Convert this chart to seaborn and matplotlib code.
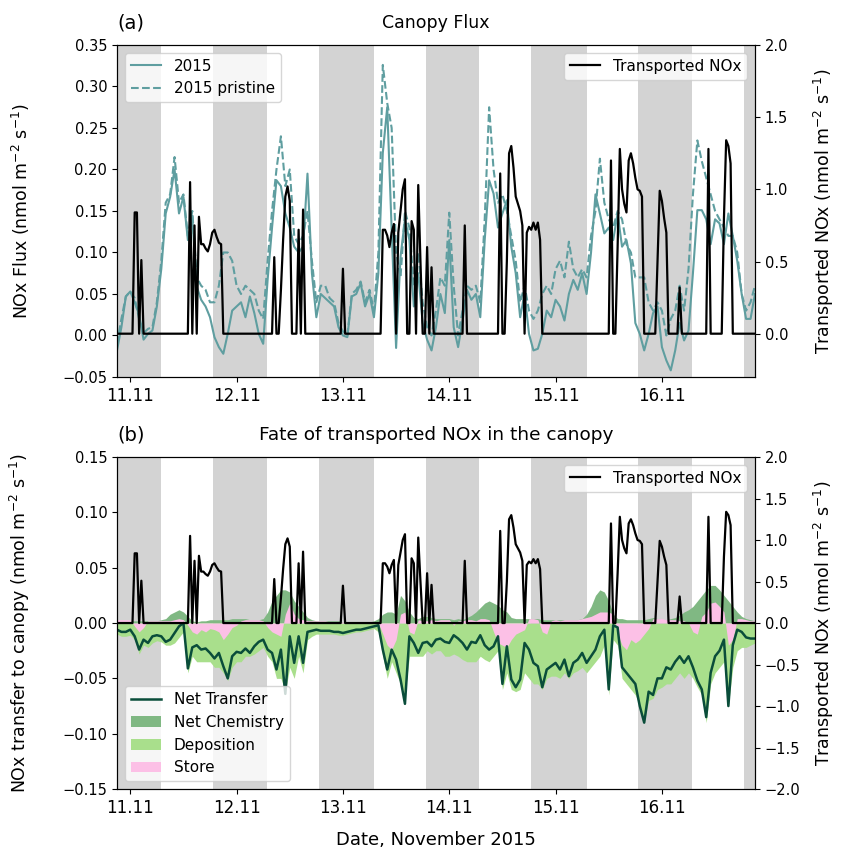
import numpy as np
import pandas as pd
import matplotlib
matplotlib.use('Agg')
import matplotlib.pyplot as plt
import matplotlib.dates as mdates
from matplotlib.ticker import MultipleLocator
import seaborn as sns

# hourly values, starting 10 Nov 2015 21:00
flux_2015 = [
    -0.018, 0.01, 0.047, 0.053, 0.04, 0.025, -0.005, 0.002, 0.006, 0.035, 0.08, 0.147,
    0.167, 0.2, 0.147, 0.167, 0.115, 0.143, 0.059, 0.043, 0.035, 0.022, -0.002, -0.014,
    -0.022, 0.002, 0.03, 0.035, 0.04, 0.022, 0.047, 0.027, 0.002, -0.01, 0.067, 0.13,
    0.187, 0.18, 0.147, 0.13, 0.107, 0.1, 0.107, 0.195, 0.075, 0.022, 0.05, 0.045,
    0.04, 0.035, 0.01, 0.0, -0.002, 0.047, 0.05, 0.063, 0.035, 0.05, 0.022, 0.075,
    0.22, 0.275, 0.127, -0.015, 0.095, 0.14, 0.115, 0.035, 0.075, 0.015, -0.005, -0.018,
    0.01, 0.05, 0.027, 0.115, 0.01, -0.014, 0.018, 0.055, 0.043, 0.05, 0.022, 0.115,
    0.187, 0.171, 0.13, 0.147, 0.163, 0.107, 0.075, 0.022, 0.05, 0.002, -0.018, -0.016,
    0.002, 0.03, 0.022, 0.043, 0.035, 0.018, 0.05, 0.067, 0.055, 0.075, 0.05, 0.1,
    0.17, 0.147, 0.123, 0.13, 0.115, 0.147, 0.107, 0.115, 0.087, 0.015, 0.002, -0.018,
    0.002, 0.027, 0.035, -0.014, -0.03, -0.042, -0.018, 0.015, -0.006, 0.006, 0.075, 0.151,
    0.151, 0.14, 0.11, 0.14, 0.135, 0.11, 0.147, 0.12, 0.09, 0.05, 0.02, 0.02,
    0.05]

flux_pristine = [
    -0.01, 0.02, 0.047, 0.053, 0.045, 0.02, 0.003, 0.008, 0.01, 0.04, 0.09, 0.16,
    0.17, 0.215, 0.16, 0.17, 0.12, 0.15, 0.07, 0.06, 0.055, 0.04, 0.04, 0.06,
    0.1, 0.1, 0.09, 0.06, 0.05, 0.06, 0.055, 0.05, 0.03, 0.02, 0.09, 0.15,
    0.2, 0.24, 0.18, 0.2, 0.12, 0.11, 0.12, 0.15, 0.09, 0.04, 0.06, 0.06,
    0.045, 0.04, 0.015, 0.005, 0.0, 0.05, 0.055, 0.065, 0.04, 0.055, 0.03, 0.1,
    0.326, 0.28, 0.25, 0.1, 0.07, 0.15, 0.13, 0.06, 0.1, 0.04, 0.01, 0.0,
    0.03, 0.07, 0.06, 0.148, 0.06, 0.0, 0.03, 0.06, 0.055, 0.06, 0.04, 0.14,
    0.275, 0.2, 0.16, 0.17, 0.15, 0.12, 0.09, 0.04, 0.06, 0.03, 0.02, 0.03,
    0.05, 0.06, 0.05, 0.08, 0.09, 0.07, 0.113, 0.08, 0.07, 0.08, 0.07, 0.12,
    0.15, 0.213, 0.16, 0.14, 0.13, 0.15, 0.14, 0.11, 0.1, 0.07, 0.07, 0.07,
    0.04, 0.03, 0.04, 0.03, 0.0, 0.02, 0.03, 0.06, 0.03, 0.08, 0.17, 0.235,
    0.21, 0.19, 0.17, 0.15, 0.14, 0.13, 0.12, 0.12, 0.1, 0.05, 0.03, 0.04,
    0.06]

net_transfer = [
    -0.006, -0.008, -0.008, -0.006, -0.012, -0.024, -0.015, -0.018, -0.012, -0.011, -0.012, -0.017,
    -0.015, -0.009, -0.003, 0.0, -0.041, -0.022, -0.02, -0.024, -0.023, -0.027, -0.032, -0.027,
    -0.039, -0.05, -0.03, -0.026, -0.027, -0.023, -0.027, -0.021, -0.017, -0.015, -0.024, -0.027,
    -0.042, -0.024, -0.064, -0.012, -0.036, -0.012, -0.036, -0.008, -0.007, -0.006, -0.007, -0.007,
    -0.007, -0.008, -0.008, -0.009, -0.008, -0.007, -0.006, -0.006, -0.005, -0.004, -0.003, -0.002,
    -0.024, -0.042, -0.024, -0.033, -0.051, -0.073, -0.012, -0.018, -0.027, -0.018, -0.017, -0.021,
    -0.015, -0.014, -0.017, -0.018, -0.011, -0.014, -0.018, -0.024, -0.017, -0.018, -0.011, -0.02,
    -0.024, -0.021, -0.012, -0.055, -0.021, -0.051, -0.058, -0.051, -0.018, -0.024, -0.036, -0.039,
    -0.058, -0.042, -0.039, -0.036, -0.042, -0.033, -0.048, -0.036, -0.033, -0.027, -0.036, -0.03,
    -0.024, -0.012, -0.006, -0.06, -0.002, -0.004, -0.04, -0.045, -0.05, -0.055, -0.075, -0.09,
    -0.062, -0.065, -0.05, -0.05, -0.04, -0.042, -0.035, -0.03, -0.036, -0.03, -0.04, -0.052,
    -0.06, -0.085, -0.045, -0.03, -0.025, -0.015, -0.075, -0.02, -0.006, -0.008, -0.013, -0.014,
    -0.014]

net_chemistry = [
    0.002, 0.002, 0.002, 0.002, 0.002, 0.002, 0.002, 0.002, 0.002, 0.002, 0.003, 0.004,
    0.008, 0.01, 0.012, 0.01, 0.006, 0.002, 0.001, 0.002, 0.002, 0.003, 0.003, 0.003,
    0.003, 0.003, 0.004, 0.004, 0.004, 0.004, 0.003, 0.003, 0.003, 0.004, 0.01, 0.02,
    0.025, 0.03, 0.03, 0.028, 0.02, 0.015, 0.01, 0.005, 0.003, 0.002, 0.002, 0.002,
    0.002, 0.002, 0.002, 0.001, 0.001, 0.001, 0.001, 0.001, 0.001, 0.001, 0.002, 0.004,
    0.008, 0.01, 0.01, 0.008, 0.025, 0.02, 0.01, 0.005, 0.004, 0.006, 0.006, 0.005,
    0.004, 0.004, 0.004, 0.004, 0.003, 0.004, 0.003, 0.005, 0.007, 0.01, 0.014, 0.018,
    0.02, 0.018, 0.016, 0.012, 0.01, 0.005, 0.004, 0.004, 0.004, 0.004, 0.004, 0.004,
    0.003, 0.003, 0.003, 0.003, 0.003, 0.003, 0.003, 0.003, 0.003, 0.004, 0.008, 0.015,
    0.025, 0.03, 0.028, 0.02, 0.008, 0.004, 0.004, 0.003, 0.003, 0.003, 0.003, 0.003,
    0.004, 0.005, 0.004, 0.003, 0.003, 0.004, 0.005, 0.007, 0.01, 0.012, 0.015, 0.02,
    0.025, 0.03, 0.034, 0.034, 0.03, 0.025, 0.02, 0.015, 0.01, 0.006, 0.004, 0.003,
    0.002]

deposition = [
    -0.01, -0.012, -0.012, -0.011, -0.015, -0.028, -0.02, -0.022, -0.018, -0.016, -0.017, -0.02,
    -0.02, -0.018, -0.013, -0.008, -0.045, -0.03, -0.035, -0.035, -0.035, -0.035, -0.04, -0.04,
    -0.045, -0.052, -0.04, -0.035, -0.035, -0.03, -0.03, -0.028, -0.025, -0.022, -0.03, -0.035,
    -0.05, -0.05, -0.062, -0.04, -0.05, -0.03, -0.045, -0.015, -0.012, -0.01, -0.01, -0.01,
    -0.01, -0.01, -0.011, -0.011, -0.01, -0.009, -0.008, -0.008, -0.007, -0.006, -0.005, -0.008,
    -0.03, -0.05, -0.035, -0.045, -0.055, -0.065, -0.03, -0.03, -0.03, -0.03, -0.025, -0.028,
    -0.025, -0.025, -0.03, -0.03, -0.028, -0.03, -0.033, -0.035, -0.035, -0.035, -0.03, -0.033,
    -0.035, -0.03, -0.025, -0.06, -0.045, -0.06, -0.062, -0.06, -0.045, -0.05, -0.055, -0.055,
    -0.06, -0.05, -0.048, -0.048, -0.05, -0.045, -0.05, -0.045, -0.043, -0.04, -0.045, -0.04,
    -0.035, -0.03, -0.02, -0.065, -0.015, -0.02, -0.05, -0.055, -0.06, -0.065, -0.075, -0.09,
    -0.07, -0.068, -0.06, -0.058, -0.055, -0.055, -0.05, -0.045, -0.05, -0.045, -0.05, -0.058,
    -0.065, -0.09, -0.055, -0.045, -0.04, -0.035, -0.075, -0.04, -0.025, -0.022, -0.022, -0.02,
    -0.018]

store = [
    0.003, 0.003, 0.003, 0.003, -0.003, -0.008, -0.004, 0.002, 0.002, 0.002, 0.002, 0.002,
    0.002, 0.003, 0.004, 0.003, -0.002, -0.008, -0.01, -0.006, -0.008, -0.005, -0.006, -0.008,
    -0.015, -0.01, -0.004, -0.002, 0.002, 0.003, 0.003, 0.003, 0.003, 0.002, -0.004, -0.008,
    -0.01, -0.012, 0.008, 0.018, 0.008, 0.004, 0.003, 0.002, 0.002, 0.002, 0.002, 0.002,
    0.001, 0.001, 0.001, 0.001, 0.001, 0.001, 0.001, 0.001, 0.001, 0.001, 0.001, 0.0,
    -0.01, -0.02, -0.024, -0.015, 0.008, 0.01, -0.008, -0.01, 0.003, 0.002, 0.002, 0.003,
    0.002, 0.003, 0.003, 0.003, -0.002, 0.002, 0.002, 0.003, 0.003, 0.002, 0.004, 0.004,
    0.003, -0.008, -0.018, -0.02, -0.022, -0.015, -0.01, -0.008, -0.006, 0.004, 0.004, 0.003,
    -0.008, -0.01, 0.002, 0.003, 0.002, 0.003, 0.003, 0.003, 0.003, 0.004, 0.005, 0.006,
    0.008, 0.01, 0.01, 0.01, 0.008, -0.01, -0.02, -0.024, -0.015, -0.018, -0.015, -0.01,
    -0.005, 0.004, 0.004, 0.004, 0.003, 0.003, 0.003, 0.002, 0.002, 0.0, -0.008, -0.01,
    0.006, 0.01, 0.018, 0.019, 0.015, 0.01, -0.02, -0.015, 0.004, 0.004, 0.003, 0.002,
    0.002]

# half-hourly transported NOx, same start
transported_nox = (
    [0] * 8 + [0.84, 0.84, 0, 0.51] + [0] * 21
    + [1.05, 0, 0.75, 0, 0.81, 0.62, 0.62, 0.59, 0.57, 0.62, 0.70, 0.72, 0.67, 0.63, 0.62]
    + [0] * 23
    + [0.53, 0, 0, 0.3, 0.65, 0.95, 1.02, 0.92, 0, 0, 0, 0.72, 0, 0.86]
    + [0] * 17 + [0.45] + [0] * 17
    + [0.72, 0.72, 0.68, 0.60, 0.70, 0.76, 0, 0.70, 0.85, 1.0, 1.07, 0, 0, 0.78, 0.72,
       0, 1.03, 0.5, 0, 0, 0.60, 0, 0.46]
    + [0] * 14 + [0.75] + [0] * 15
    + [1.11, 0, 0, 0.5, 1.25, 1.30, 1.15, 0.95, 0.90, 0.85, 0.75, 0, 0.70, 0.74, 0.72,
       0.77, 0.72, 0.77, 0.65]
    + [0] * 31
    + [1.20, 0, 0, 0.6, 1.28, 1.0, 0.9, 0.84, 1.2, 1.25, 1.18, 1.08, 1.0, 0.99, 0.95]
    + [0] * 6 + [0.5, 0.99, 0.92, 0.8, 0.7] + [0] * 5 + [0.32] + [0] * 12
    + [1.28] + [0] * 6 + [0.8, 1.34, 1.3, 1.18] + [0] * 11
)

# night periods (grey shading)
night_start = ['2015-11-10 21:00', '2015-11-11 18:39', '2015-11-12 18:36', '2015-11-13 18:42',
               '2015-11-14 18:30', '2015-11-15 18:42', '2015-11-16 18:36']
night_end = ['2015-11-11 07:00', '2015-11-12 06:45', '2015-11-13 07:00', '2015-11-14 06:48',
             '2015-11-15 07:06', '2015-11-16 06:48', '2015-11-16 21:00']

t_hour = pd.date_range('2015-11-10 21:00', periods=len(flux_2015), freq='h')
t_half = pd.date_range('2015-11-10 21:00', periods=len(transported_nox), freq='30min')

flux_df = pd.DataFrame({'time': t_hour, 'flux': flux_2015, 'pristine': flux_pristine,
                        'net': net_transfer, 'chem': net_chemistry,
                        'dep': deposition, 'store': store})
nox_df = pd.DataFrame({'time': t_half, 'nox': transported_nox})

teal = '#5f9ea0'
unit = ' (nmol m$^{-2}$ s$^{-1}$)'
lab_fs = 12.5

fig = plt.figure(figsize=(8.44, 8.57), dpi=100)
ax1 = fig.add_axes([0.1386, 0.5601, 0.7559, 0.3874])
ax2 = fig.add_axes([0.1386, 0.0793, 0.7559, 0.3874])

for ax in (ax1, ax2):
    for s, e in zip(night_start, night_end):
        ax.axvspan(pd.Timestamp(s), pd.Timestamp(e), color='lightgrey', lw=0, zorder=0)

# (a) canopy flux
sns.lineplot(data=flux_df, x='time', y='flux', ax=ax1, color=teal, lw=1.5, label='2015')
sns.lineplot(data=flux_df, x='time', y='pristine', ax=ax1, color=teal, lw=1.5,
             linestyle='--', label='2015 pristine')
ax1.set_ylim(-0.05, 0.35)
ax1.yaxis.set_major_locator(MultipleLocator(0.05))
ax1.set_ylabel('NOx Flux' + unit, fontsize=lab_fs)
ax1.set_xlabel('')
ax1.legend(loc='upper left', fontsize=11)
ax1.set_title('Canopy Flux', fontsize=12.5, pad=12)
ax1.set_title('(a)', loc='left', fontsize=14, pad=12)

ax1r = ax1.twinx()
sns.lineplot(data=nox_df, x='time', y='nox', ax=ax1r, color='black', lw=1.6,
             label='Transported NOx')
ax1r.set_ylim(-0.3, 2.0)
ax1r.yaxis.set_major_locator(MultipleLocator(0.5))
ax1r.set_ylabel('Transported NOx' + unit, fontsize=lab_fs)
ax1r.legend(loc='upper right', fontsize=11)

# (b) fate of transported NOx
h_chem = ax2.fill_between(flux_df['time'], 0, flux_df['chem'], color='#80b883', lw=0,
                          label='Net Chemistry', zorder=1)
h_dep = ax2.fill_between(flux_df['time'], 0, flux_df['dep'], color='#a9df8c', lw=0,
                         label='Deposition', zorder=1)
h_store = ax2.fill_between(flux_df['time'], 0, flux_df['store'], color='#fcc0e6', lw=0,
                           label='Store', zorder=1)
sns.lineplot(data=flux_df, x='time', y='net', ax=ax2, color='#0a4d3a', lw=1.8,
             label='Net Transfer', zorder=2)
h_net = ax2.get_lines()[-1]
ax2.set_ylim(-0.15, 0.15)
ax2.yaxis.set_major_locator(MultipleLocator(0.05))
ax2.set_ylabel('NOx transfer to canopy' + unit, fontsize=lab_fs)
ax2.set_xlabel('Date, November 2015', fontsize=13, labelpad=10)
ax2.legend(handles=[h_net, h_chem, h_dep, h_store], loc='lower left', fontsize=11)
ax2.set_title('Fate of transported NOx in the canopy', fontsize=13.3, pad=12)
ax2.set_title('(b)', loc='left', fontsize=14, pad=12)

ax2r = ax2.twinx()
sns.lineplot(data=nox_df, x='time', y='nox', ax=ax2r, color='black', lw=1.6,
             label='Transported NOx')
ax2r.set_ylim(-2.0, 2.0)
ax2r.yaxis.set_major_locator(MultipleLocator(0.5))
ax2r.set_ylabel('Transported NOx' + unit, fontsize=lab_fs)
ax2r.legend(loc='upper right', fontsize=11)

for ax in (ax1, ax2, ax1r, ax2r):
    ax.set_xlim(t_hour[0], t_hour[-1])
    ax.xaxis.set_major_locator(mdates.DayLocator())
    ax.xaxis.set_major_formatter(mdates.DateFormatter('%d.%m'))
    ax.tick_params(axis='y', labelsize=10.5)
    ax.tick_params(axis='x', labelsize=12)

for ax in (ax1, ax2):
    ax.yaxis.set_label_coords(-0.133, 0.5)
for ax in (ax1r, ax2r):
    ax.yaxis.set_label_coords(1.089, 0.5)

fig.savefig('out.png', dpi=100)
